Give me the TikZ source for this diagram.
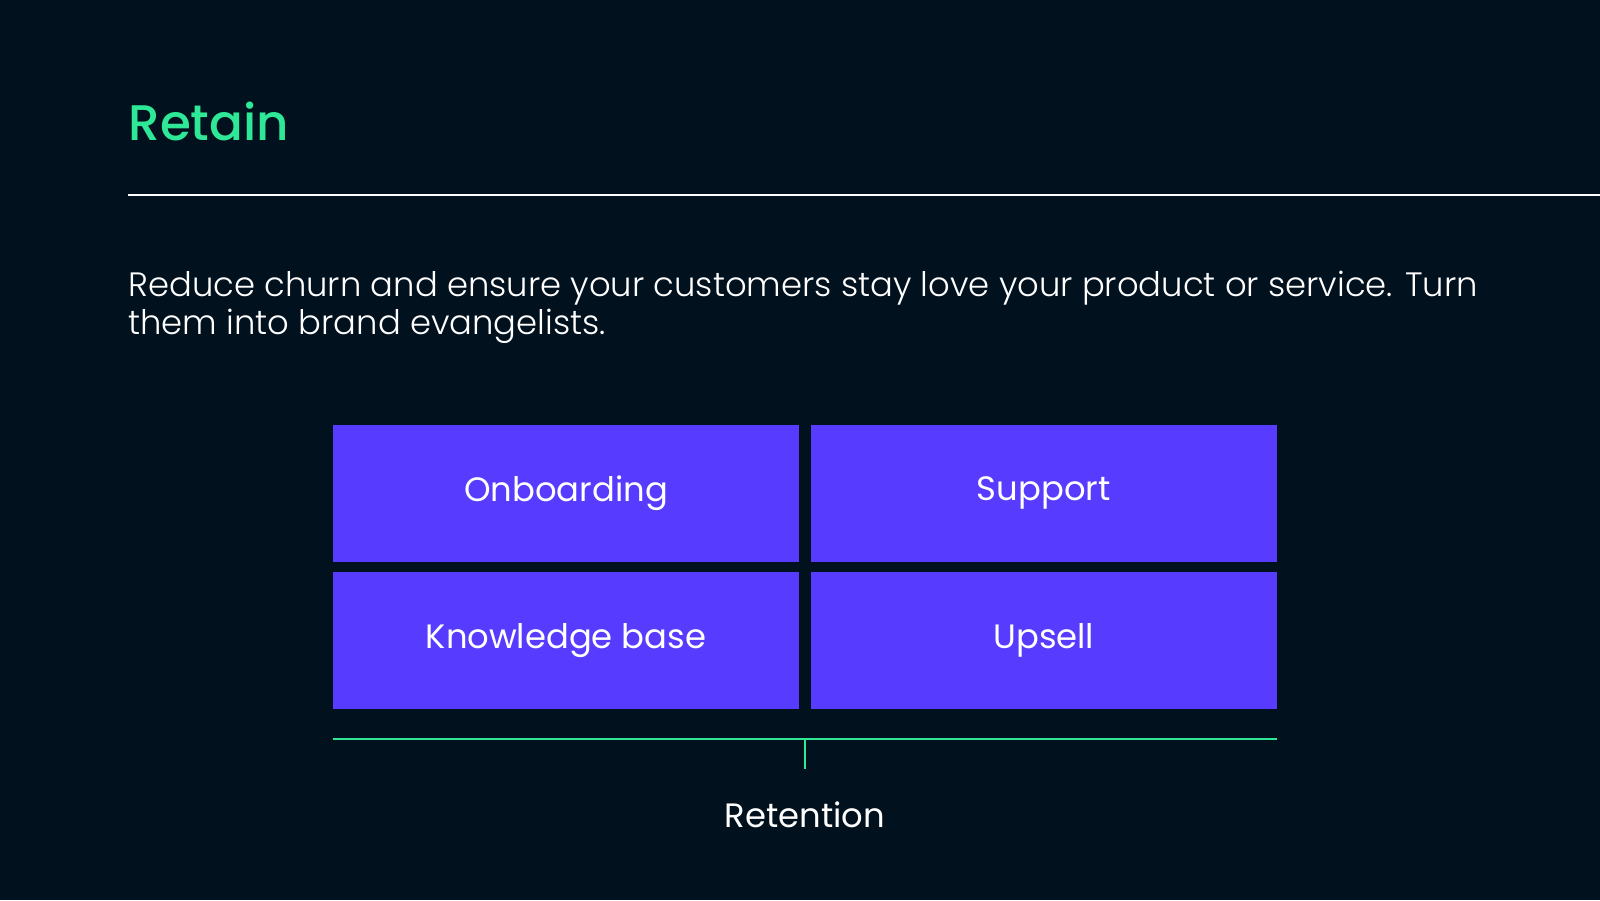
\documentclass[tikz,border=0pt]{standalone}
\usepackage{fontspec}
\setmainfont{Poppins}
\newfontfamily\lightfont{Poppins}[UprightFont = * Light]
\newfontfamily\titlefont{Poppins}[UprightFont = * Medium]
\usetikzlibrary{positioning}

\definecolor{bgnavy}{HTML}{01111E}
\definecolor{retaingreen}{HTML}{2EE898}
\definecolor{tileblue}{HTML}{573BFF}

\tikzset{
	tile/.style = {fill = tileblue, text = white, inner sep = 0pt,
		minimum width = 233pt, minimum height = 68.5pt,
		font = \fontsize{16.9}{20}\selectfont},
	bodytext/.style = {text = white, inner sep = 0pt, anchor = base west,
		font = \lightfont\fontsize{16.9}{20}\selectfont},
}

\begin{document}
\begin{tikzpicture}[x = 0.5pt, y = -0.5pt]
		\def\gap{5.5pt};
		\def\drop{15.5pt};
		
		\useasboundingbox[fill = bgnavy] (0,0) rectangle (1600,900);
		
		\node [anchor = base west, inner sep = 0pt, text = retaingreen,
			font = \titlefont\fontsize{25}{30}\selectfont] (title) at (128,140) {Retain};
		
		\coordinate (ruleL) at (128,194.5);
		\coordinate (ruleR) at (1600,194.5);
		\draw [white, line width = 1pt] (ruleL) -- (ruleR);
		
		\node [bodytext] (lineA) at (128,296) {Reduce churn and ensure your customers stay love your product or service. Turn};
		\node [bodytext] (lineB) at (128,334) {them into brand evangelists.};
		
		% the four tiles
		\node [tile] (onboard) at (566,493) {Onboarding};
		\node [tile, right = \gap of onboard] (support) {Support};
		\node [tile, below = 5pt of onboard] (knowledge) {Knowledge base};
		\node [tile, below = 5pt of support] (upsell) {Upsell};
		
		\begin{scope}[retaingreen, line width = 1pt]
		\coordinate (brL) at ([yshift = -14.5pt]knowledge.south west);
		\coordinate (brR) at ([yshift = -14.5pt]upsell.south east);
		\coordinate (brM) at (805,738);
		\draw (brL) -- (brR);
		\draw (brM) -- ++(0,-\drop) coordinate (brEnd);
		\end{scope}
		
		\node [text = white, inner sep = 0pt, anchor = base,
			font = \fontsize{16.9}{20}\selectfont] (retention) at (805,827) {Retention};
	\end{tikzpicture}
\end{document}
